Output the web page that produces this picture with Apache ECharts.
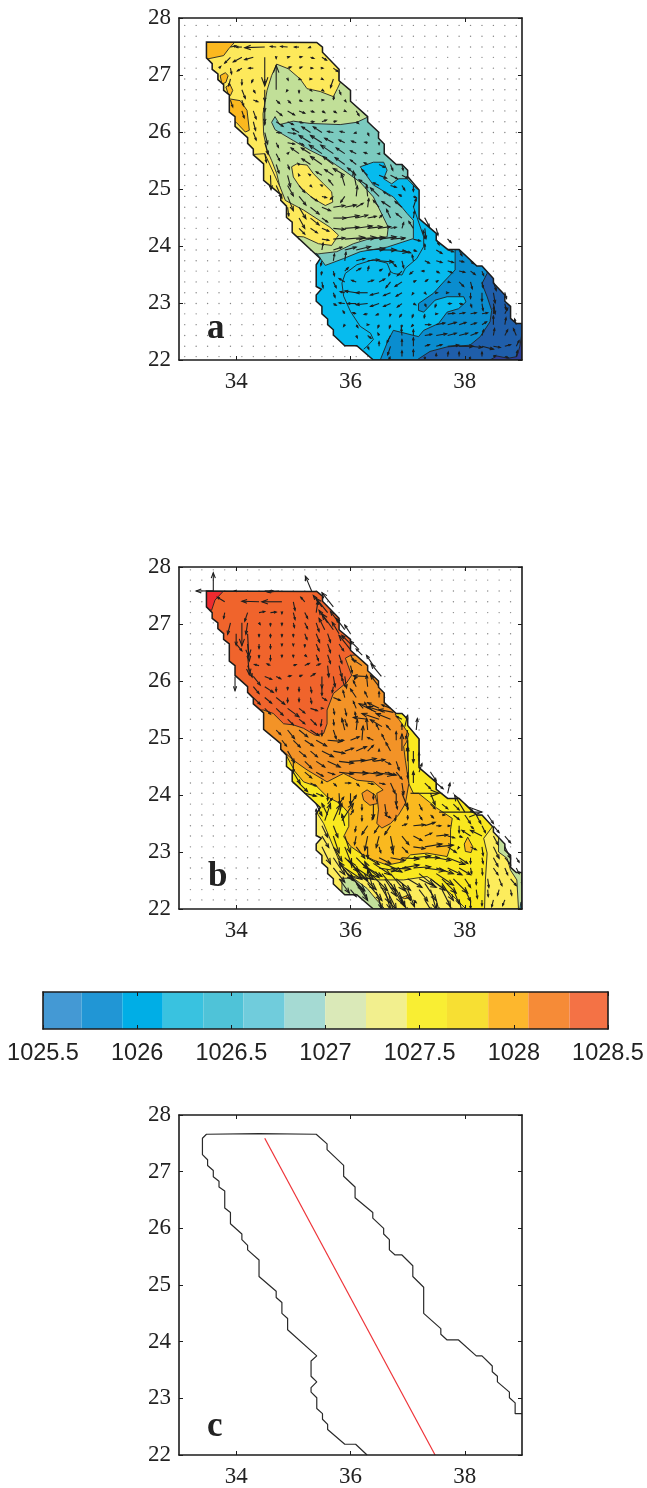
<!DOCTYPE html>
<html>

<head>
	<meta charset="UTF-8">
	<title></title>
	<script src="https://cdn.jsdelivr.net/npm/echarts@6/dist/echarts.min.js" type="text/javascript" charset="utf-8"></script>
	<style type="text/css">
		* {
			margin: 0;
			padding: 0;
		}

		html, body {
			background: #fff;
		}

		#app {
			width: 647px;
			height: 1488px;
		}
	</style>
</head>

<body>
	<div id="app"></div>
	<script type="text/javascript">
		var lonTicks = [34, 36, 38];
		var latTicks = [22, 23, 24, 25, 26, 27, 28];
		var barTicks = [1025.5, 1026, 1026.5, 1027, 1027.5, 1028, 1028.5];
		var barEdges = [1025.5, 1025.704, 1025.921, 1026.136, 1026.351, 1026.564, 1026.783, 1026.998, 1027.215, 1027.43, 1027.645, 1027.864, 1028.077, 1028.296, 1028.5];
		var barColors = ['#4499d4', '#2196d5', '#00aee6', '#39c2e0', '#4fc3d8', '#70ccdc', '#a5dad3', '#dae9b8', '#f2ef8e', '#f9ee33', '#f7df33', '#fdb72d', '#f68b37', '#f47245'];

		// velocity grid, panels a and b sit half a cell apart
		var dotLonsA = [33.1, 33.3, 33.5, 33.7, 33.9, 34.1, 34.3, 34.5, 34.7, 34.9, 35.1, 35.3, 35.5, 35.7, 35.9, 36.1, 36.3, 36.5, 36.7, 36.9, 37.1, 37.3, 37.5, 37.7, 37.9, 38.1, 38.3, 38.5, 38.7, 38.9];
		var dotLatsA = [27.87, 27.68, 27.49, 27.31, 27.12, 26.93, 26.74, 26.56, 26.37, 26.18, 25.99, 25.81, 25.62, 25.43, 25.24, 25.06, 24.87, 24.68, 24.49, 24.31, 24.12, 23.93, 23.74, 23.56, 23.37, 23.18, 22.99, 22.81, 22.62, 22.43, 22.24, 22.06];
		var dotLonsB = [33.2, 33.4, 33.6, 33.8, 34, 34.2, 34.4, 34.6, 34.8, 35, 35.2, 35.4, 35.6, 35.8, 36, 36.2, 36.4, 36.6, 36.8, 37, 37.2, 37.4, 37.6, 37.8, 38, 38.2, 38.4, 38.6, 38.8];
		var dotLatsB = [27.95, 27.77, 27.58, 27.39, 27.2, 27.02, 26.83, 26.65, 26.46, 26.27, 26.08, 25.9, 25.71, 25.52, 25.33, 25.14, 24.96, 24.77, 24.59, 24.4, 24.21, 24.03, 23.84, 23.65, 23.46, 23.28, 23.09, 22.9, 22.72, 22.53, 22.34, 22.16];

		// model domain used in a and b
		var basin = [[33.48, 27.58], [33.48, 27.3], [33.58, 27.2], [33.58, 27.1], [33.68, 27.02], [33.68, 26.92], [33.78, 26.83], [33.78, 26.73], [33.88, 26.65], [33.88, 26.35], [33.98, 26.27], [33.98, 26.1], [34.2, 25.9], [34.2, 25.8], [34.3, 25.7], [34.3, 25.6], [34.48, 25.44], [34.48, 25.15], [34.78, 24.9], [34.78, 24.8], [34.88, 24.7], [34.88, 24.5], [34.98, 24.42], [34.98, 24.24], [35.47, 23.78], [35.4, 23.67], [35.4, 23.29], [35.49, 23.24], [35.4, 23.14], [35.4, 23.03], [35.5, 22.94], [35.5, 22.81], [35.6, 22.72], [35.6, 22.62], [35.7, 22.53], [35.7, 22.44], [35.9, 22.25], [36.11, 22.25], [36.4, 22], [39, 22], [39, 22.64], [38.9, 22.64], [38.8, 22.73], [38.8, 22.94], [38.7, 23.03], [38.7, 23.14], [38.5, 23.35], [38.5, 23.43], [38.3, 23.65], [38.21, 23.65], [37.9, 23.94], [37.7, 23.94], [37.5, 24.1], [37.5, 24.22], [37.2, 24.48], [37.2, 24.98], [37, 25.22], [37, 25.33], [36.9, 25.43], [36.8, 25.43], [36.59, 25.62], [36.59, 25.79], [36.49, 25.89], [36.49, 26], [36.3, 26.18], [36.3, 26.27], [36, 26.54], [36, 26.73], [35.8, 26.9], [35.8, 27.1], [35.51, 27.4], [35.51, 27.49], [35.41, 27.57]];

		// coast and section in c
		var coastC = [[36.29, 22], [36.09, 22.19], [35.9, 22.19], [35.6, 22.45], [35.6, 22.54], [35.51, 22.63], [35.51, 22.73], [35.41, 22.82], [35.41, 23.01], [35.31, 23.11], [35.31, 23.19], [35.41, 23.29], [35.31, 23.39], [35.31, 23.66], [35.41, 23.75], [34.9, 24.21], [34.9, 24.41], [34.8, 24.5], [34.8, 24.69], [34.7, 24.78], [34.7, 24.89], [34.4, 25.15], [34.4, 25.44], [34.2, 25.62], [34.2, 25.7], [34.1, 25.8], [34.1, 25.9], [33.9, 26.08], [33.9, 26.28], [33.8, 26.36], [33.8, 26.66], [33.7, 26.73], [33.7, 26.83], [33.6, 26.91], [33.6, 27.02], [33.5, 27.11], [33.5, 27.21], [33.41, 27.3], [33.41, 27.59], [33.48, 27.66], [34.4, 27.67], [35.4, 27.66], [35.59, 27.49], [35.59, 27.39], [35.88, 27.11], [35.88, 26.92], [36.08, 26.73], [36.08, 26.54], [36.39, 26.28], [36.39, 26.18], [36.58, 26], [36.58, 25.9], [36.68, 25.8], [36.68, 25.62], [36.78, 25.53], [36.9, 25.53], [37.09, 25.34], [37.09, 25.15], [37.28, 24.96], [37.28, 24.5], [37.58, 24.23], [37.58, 24.13], [37.69, 24.03], [37.89, 24.03], [38.2, 23.75], [38.3, 23.75], [38.48, 23.57], [38.48, 23.47], [38.57, 23.39], [38.57, 23.29], [38.78, 23.11], [38.78, 23.01], [38.88, 22.92], [38.88, 22.73], [39, 22.73]];
		var sectionC = [[34.5, 27.59], [37.48, 22]];

		// density regions of a, painted in this order and cut to the basin
		var regionsA = [
			{ color: '#fde95b', points: basin },
			{ color: '#c1df98', points: [[34.71, 27.19], [34.91, 27.11], [35.12, 26.93], [35.24, 26.76], [35.47, 26.71], [35.7, 26.62], [35.77, 26.76], [35.85, 26.93], [39.5, 26.93], [39.5, 21.5], [34.42, 21.5], [34.42, 24.4], [34.78, 24.97], [34.71, 25.27], [34.62, 25.5], [34.54, 25.68], [34.48, 25.97], [34.47, 26.32], [34.54, 26.73], [34.62, 26.99]] },
			{ color: '#7bcabf', points: [[34.62, 26.17], [34.68, 26.27], [34.76, 26.13], [35, 26.19], [35.29, 26.15], [35.82, 26.13], [36.11, 26.17], [36.3, 26.26], [39.5, 26.26], [39.5, 21.5], [35, 21.5], [35, 23.8], [35.5, 23.87], [35.76, 23.9], [36.05, 24.04], [36.34, 24.13], [36.64, 24.16], [36.66, 24.33], [36.4, 24.86], [36.17, 25.12], [35.88, 25.33], [35.59, 25.53], [35.29, 25.68], [35, 25.85], [34.68, 26.04]] },
			{ color: '#06bbee', points: [[36.17, 25.39], [36.4, 25.47], [36.58, 25.47], [36.64, 25.33], [36.58, 25.18], [36.72, 25.09], [36.84, 25.18], [36.99, 25.18], [37.16, 25], [39.5, 25], [39.5, 21.5], [35, 21.5], [35, 23.87], [35.41, 23.87], [35.56, 23.66], [35.88, 23.78], [36.17, 23.9], [36.64, 23.98], [37.1, 24.13], [37.1, 24.45], [36.99, 24.57], [36.75, 24.86], [36.4, 25.07]] },
			{ color: '#0a8dcf', points: [[37.83, 23.94], [37.83, 23.75], [37.83, 23.58], [37.63, 23.37], [37.45, 23.17], [37.19, 22.99], [37.19, 22.87], [37.28, 22.84], [37.48, 23.05], [37.69, 23.11], [37.98, 23.11], [38.02, 23.02], [37.89, 22.9], [37.69, 22.84], [37.54, 22.64], [37.28, 22.52], [37.19, 22.41], [36.99, 22.46], [36.75, 22.52], [36.66, 22.35], [36.52, 22], [36.52, 21.5], [39.5, 21.5], [39.5, 23.94]] },
			{ color: '#1f5eaa', points: [[38.39, 23.7], [38.39, 23.52], [38.3, 23.34], [38.39, 23.11], [38.47, 22.87], [38.44, 22.67], [38.27, 22.41], [38.09, 22.26], [37.69, 22.23], [37.39, 22.15], [37.16, 22], [37.16, 21.5], [39.5, 21.5], [39.5, 23.7]] },
			{ color: '#2c3e98', points: [[38.44, 22], [38.56, 22.07], [38.76, 22.03], [38.91, 22.06], [38.96, 22.23], [39, 22.47], [39.5, 22.47], [39.5, 21.5], [38.44, 21.5]] },
			{ color: '#fde95b', points: [[34.97, 25.39], [35.06, 25.44], [35.24, 25.42], [35.35, 25.27], [35.53, 25.09], [35.67, 24.95], [35.69, 24.77], [35.56, 24.71], [35.35, 24.83], [35.12, 25.03], [35, 25.21]] },
			{ color: '#fde95b', points: [[34.5, 25.62], [34.77, 25.03], [34.86, 24.8], [35.18, 24.63], [35.64, 24.33], [35.79, 24.19], [35.67, 24.01], [35.44, 24.04], [35.18, 24.16], [34.6, 24.2], [34, 25], [34.2, 25.6]] },
			{ color: '#fbb81f', points: [[33.3, 27.7], [34.1, 27.7], [33.97, 27.57], [33.87, 27.46], [33.78, 27.34], [33.3, 27.24]] },
			{ color: '#fbb81f', points: [[33.72, 26.99], [33.81, 27.04], [33.86, 26.99], [33.82, 26.87], [33.75, 26.84]] },
			{ color: '#fbb81f', points: [[33.82, 26.79], [33.89, 26.84], [33.94, 26.73], [33.9, 26.64], [33.86, 26.67]] },
			{ color: '#fbb81f', points: [[33.89, 26.58], [34.07, 26.55], [34.19, 26.38], [34.23, 26.03], [34.16, 26], [34, 26.17], [33.7, 26.35], [33.7, 26.58]] }
		];

		// contours inside one colour band of a
		var contoursA = [
			[[36.23, 22.19], [36.29, 22.24], [36.4, 22.36], [36.35, 22.47], [36.17, 22.59], [36, 22.85], [35.88, 23.12], [35.85, 23.35], [35.91, 23.52], [36.11, 23.67], [36.4, 23.76], [36.64, 23.7], [36.7, 23.55], [36.75, 23.52], [36.9, 23.49], [36.96, 23.61], [37.16, 23.78], [37.28, 23.99], [37.28, 24.16], [37.1, 24.69]]
		];

		var regionsB = [
			{ color: '#f9e81f', points: basin },
			{ color: '#fcec5c', points: [[35.38, 23.74], [35.53, 23.5], [35.7, 23.09], [35.82, 22.8], [36.05, 22.57], [36.46, 22.51], [36.93, 22.51], [37.34, 22.57], [37.74, 22.28], [38.04, 21.98], [38.1, 21.5], [35, 21.5], [35, 23.74]] },
			{ color: '#fcec5c', points: [[38.33, 23.24], [38.39, 22.98], [38.36, 22.51], [38.33, 21.5], [39.5, 21.5], [39.5, 23.6], [38.6, 23.6]] },
			{ color: '#c2df9a', points: [[35.85, 22.54], [36.05, 22.54], [36.29, 22.36], [36.43, 22.19], [36.69, 21.9], [36.4, 21.7], [35.7, 21.9], [35.85, 22.3]] },
			{ color: '#c2df9a', points: [[38.59, 23.15], [38.59, 23], [38.74, 22.89], [38.8, 22.68], [38.91, 22.51], [38.94, 21.98], [39.5, 21.9], [39.5, 23.6], [38.59, 23.6]] },
			{ color: '#06bbee', points: [[38.98, 22.12], [39.1, 22.12], [39.1, 21.9], [38.95, 21.9]] },
			{ color: '#fab91f', points: [[34.65, 25.08], [34.89, 24.67], [35.03, 24.41], [35.18, 24.23], [35.41, 24.15], [35.59, 23.97], [35.82, 23.85], [35.97, 23.68], [35.97, 23.45], [35.88, 23.27], [36, 23.1], [36.17, 22.98], [36.4, 22.86], [36.64, 22.77], [36.93, 22.83], [37.05, 22.95], [37.34, 22.98], [37.69, 22.92], [37.75, 23.1], [37.75, 23.39], [37.78, 23.59], [37.51, 23.77], [37.19, 24.03], [37.1, 24.03], [37.02, 24.2], [37, 25], [35.5, 25.5]] },
			{ color: '#fab91f', points: [[37.99, 23.14], [38.05, 23.26], [38.14, 23.09], [38.11, 22.99], [38.01, 23.01]] },
			{ color: '#fab91f', points: [[36.9, 22.2], [37.02, 22.25], [37.07, 22.21], [36.95, 22.18]] },
			{ color: '#f39327', points: [[37.2, 25.6], [36.78, 25.42], [36.9, 25.25], [37.02, 25.07], [36.98, 24.93], [36.93, 24.85], [36.96, 24.61], [37.02, 24.2], [36.96, 23.85], [36.84, 23.65], [36.7, 23.5], [36.55, 23.42], [36.46, 23.5], [36.49, 23.74], [36.46, 24.03], [36.57, 24.09], [36.4, 24.23], [36.11, 24.26], [35.88, 24.38], [35.59, 24.23], [35.24, 24.44], [35, 24.61], [34.8, 24.79], [34, 25], [33, 28], [37.2, 28]] },
			{ color: '#f39327', points: [[36.2, 24.03], [36.29, 24.09], [36.43, 24], [36.47, 23.85], [36.34, 23.82], [36.23, 23.91]] },
			{ color: '#f0642c', points: [[36.02, 26.1], [35.94, 25.98], [35.7, 25.78], [35.59, 25.49], [35.59, 25.25], [35.53, 25.08], [35.38, 25.05], [35.18, 25.17], [35, 25.23], [34.83, 25.25], [34.65, 25.43], [34.48, 25.49], [34, 25.5], [33, 28], [37, 28], [37, 26.6], [36.14, 26.46], [36, 26.45], [35.91, 26.4]] },
			{ color: '#ee2a2f', points: [[33.3, 27.7], [33.85, 27.7], [33.78, 27.58], [33.63, 27.42], [33.57, 27.24], [33.3, 27.3]] }
		];

		// arrows of a by row: lat, then [lon, dlon, dlat]
		var rowsA = [
			[27.49, [33.9, .1, .02], [34.1, -.1, 0], [34.5, -.35, -.01], [34.7, -.1, .01], [34.9, -.12, .01], [35.1, -.08, 0], [35.3, -.03, -.01]],
			[27.31, [33.9, -.1, -.1], [34.1, -.15, -.08], [34.3, -.15, -.04], [34.5, 0, -.5], [34.7, 0, -.02], [34.9, .03, .01], [35.1, .05, .01], [35.3, .06, -.02], [35.5, .08, -.05]],
			[27.12, [33.7, .03, .03], [33.9, .02, -.1], [34.1, -.08, -.05], [34.3, -.08, 0], [34.9, .06, .02], [35.1, .05, .02], [35.3, .04, 0], [35.5, .02, 0], [35.7, .08, -.06]],
			[26.93, [33.9, -.03, -.12], [34.1, 0, -.1], [34.3, -.03, -.06], [34.5, 0, -.08], [34.9, .01, -.02], [35.1, .03, -.01], [35.3, .02, 0], [35.5, .02, -.01], [35.7, -.05, -.15]],
			[26.74, [34.1, .06, -.15], [34.3, .03, -.05], [34.5, 0, -.2], [34.7, 0, .43], [34.9, -.02, -.03], [35.1, 0, -.05], [35.3, .02, -.02], [35.5, .03, -.02], [35.8, .03, -.08]],
			[26.56, [33.9, .04, -.12], [34.1, .03, -.1], [34.3, .08, -.03], [34.5, 0, -.2], [34.7, .06, -.06], [34.9, .05, -.05], [35.1, .05, -.02], [35.3, .03, -.01], [35.5, .03, 0], [35.7, .01, .06], [35.9, .02, -.03]],
			[26.37, [34.1, .04, -.12], [34.3, .05, -.14], [34.5, 0, -.2], [34.7, .1, -.08], [34.9, .12, -.07], [35.1, .1, -.04], [35.3, .06, -.02], [35.5, .05, -.03], [35.7, .05, -.03], [35.9, .02, -.01], [36.1, .05, -.08]],
			[26.18, [34.3, .04, -.15], [34.5, 0, -.05], [34.7, .12, -.08], [34.9, .1, -.05], [35.1, .06, -.02], [35.3, .06, 0], [35.5, .08, .03], [35.7, .05, .01], [36.1, .04, -.03]],
			[25.99, [34.3, .05, -.13], [34.5, .05, -.2], [34.7, .08, 0], [34.9, .14, -.02], [35.1, -.12, .07], [35.3, -.15, .1], [35.5, -.15, .1], [35.7, -.1, .02], [35.9, -.08, .02], [36.1, -.03, -.01], [36.3, .02, -.05]],
			[25.81, [34.5, .06, -.2], [34.7, .04, -.08], [34.9, .12, -.02], [35.1, .08, -.04], [35.3, -.2, .13], [35.5, -.2, .13], [35.7, -.15, .08], [35.9, -.1, .05], [36.1, -.08, .03], [36.3, -.05, .01], [36.5, 0, -.03]],
			[25.62, [34.5, .03, -.15], [34.7, .06, -.12], [34.9, .02, .02], [35.1, -.14, .1], [35.3, -.16, .1], [35.5, -.22, .15], [35.7, -.22, .15], [35.9, -.15, .1], [36.1, -.1, .05], [36.3, -.06, .02], [36.5, -.02, 0]],
			[25.43, [34.7, .05, -.15], [34.9, .03, -.08], [35.1, -.02, .02], [35.3, -.15, .1], [35.5, -.2, .14], [35.7, -.18, .14], [35.9, -.17, .12], [36.1, -.1, .08], [36.3, -.06, .03], [36.5, .1, -.05], [36.7, .04, -.1], [36.9, .02, -.1]],
			[25.24, [34.6, .01, -.25], [34.9, .05, -.2], [35.1, -.01, .02], [35.3, -.03, .02], [35.5, -.1, .06], [35.7, -.15, .1], [35.9, -.2, .12], [36.1, -.15, .13], [36.3, -.1, .1], [36.5, .13, -.05], [36.7, .12, -.06], [36.9, .1, -.05]],
			[25.06, [34.7, .1, -.22], [34.9, .1, -.18], [35.1, .1, -.12], [35.3, .02, -.02], [35.5, -.02, .01], [35.7, -.08, .1], [35.9, -.06, .2], [36.1, -.05, .25], [36.3, -.15, .1], [36.5, -.1, .05], [36.7, .1, -.03], [36.9, .05, -.08], [37.1, 0, -.1]],
			[24.87, [34.9, .1, -.25], [35.1, .12, -.15], [35.3, .12, -.08], [35.5, .08, -.02], [35.7, -.05, -.05], [35.9, -.07, -.1], [36.1, .02, .18], [36.3, -.02, .2], [36.5, -.15, .15], [36.7, -.12, .08], [36.9, -.05, .03], [37.1, .05, -.02]],
			[24.68, [34.9, .02, -.15], [35.1, .12, -.2], [35.3, .15, -.12], [35.5, .15, -.06], [35.7, .2, .03], [35.9, .2, .04], [36.1, .12, .07], [36.3, .02, .15], [36.5, -.1, .12], [36.7, -.15, .1], [36.9, -.12, .1], [37.1, .05, .15]],
			[24.49, [35.1, .1, -.18], [35.3, .15, -.12], [35.5, .1, -.07], [35.7, .22, 0], [35.9, .25, .04], [36.1, .2, .05], [36.3, .15, .03], [36.5, .05, .05], [36.7, -.07, .15], [36.9, -.1, .08], [37.1, .02, .12], [37.3, .08, -.15]],
			[24.31, [35.1, .1, -.1], [35.3, .12, -.08], [35.5, .12, -.05], [35.7, .2, -.02], [35.9, .25, .02], [36.1, .28, .04], [36.3, .25, .03], [36.5, .2, .03], [36.7, .1, .02], [36.9, .03, .1], [37.1, -.08, .12], [37.3, .02, -.18], [37.5, .03, -.12]],
			[24.12, [35.5, .12, -.02], [35.7, .2, .02], [35.9, .35, .03], [36.1, .35, .03], [36.3, .3, .03], [36.5, .3, .04], [36.7, .25, .02], [36.9, .05, .02], [37.1, .12, -.03], [37.3, -.03, .15], [37.5, .05, -.1], [37.7, .06, -.06]],
			[23.93, [35.5, .02, .12], [35.7, .15, .05], [35.9, .2, .05], [36.1, .25, .06], [36.3, .3, .02], [36.5, .3, 0], [36.7, .3, -.04], [36.9, .15, -.05], [37.1, .05, -.02], [37.3, 0, .1], [37.5, .1, -.06], [37.7, .1, -.03], [37.9, .05, -.1]],
			[23.74, [35.5, -.02, -.08], [35.7, .02, .12], [35.9, .02, .15], [36.1, .15, .04], [36.3, .2, .02], [36.5, .25, -.02], [36.7, .1, -.1], [36.9, .03, -.12], [37.1, -.02, .1], [37.3, .08, -.04], [37.5, .1, -.03], [37.7, .1, -.03], [37.9, .08, -.02], [38.1, .05, -.05]],
			[23.56, [35.5, -.01, -.06], [35.7, .02, -.08], [35.9, .06, .06], [36.1, .08, .05], [36.3, .02, .08], [36.5, .05, .03], [36.7, -.03, -.08], [36.9, -.08, -.08], [37.1, -.06, -.05], [37.3, -.05, 0], [37.5, .05, -.03], [37.7, .08, -.03], [37.9, .1, -.02], [38.1, .08, -.06], [38.3, .03, -.08]],
			[23.37, [35.5, .02, -.1], [35.7, .05, -.1], [35.9, -.1, .06], [36.1, -.08, .03], [36.3, .1, .03], [36.5, .1, .05], [36.7, -.08, -.1], [36.9, -.12, -.08], [37.1, .04, .02], [37.3, .05, .04], [37.5, .03, .02], [37.7, .04, -.01], [37.9, .08, -.08], [38.1, .03, -.12], [38.3, .02, -.1], [38.5, .05, -.15]],
			[23.18, [35.7, .03, -.08], [35.9, -.08, .02], [36.1, -.2, .03], [36.3, -.2, 0], [36.5, -.15, -.04], [36.7, -.12, -.05], [36.9, -.1, -.06], [37.1, -.02, -.03], [37.3, .02, -.02], [37.5, .02, 0], [37.7, .01, 0], [37.9, .01, -.05], [38.1, 0, -.1], [38.3, 0, -.15], [38.5, .03, -.18], [38.7, .03, -.1]],
			[22.99, [35.7, .05, -.03], [35.9, -.1, .01], [36.1, -.15, 0], [36.3, -.2, -.02], [36.5, -.15, -.05], [36.7, -.12, -.05], [36.9, -.08, -.06], [37.1, .04, -.02], [37.3, .02, -.05], [37.5, -.02, -.06], [37.7, .06, 0], [37.9, .06, -.01], [38.1, .02, -.06], [38.3, .02, -.12], [38.5, .03, -.18], [38.7, .02, -.1]],
			[22.81, [35.9, -.03, .05], [36.1, -.06, .02], [36.3, -.06, -.01], [36.5, -.05, -.02], [36.7, -.01, -.04], [36.9, -.04, -.05], [37.1, -.02, -.06], [37.3, -.01, -.07], [37.5, .02, 0], [37.7, .12, .01], [37.9, .1, .02], [38.1, .1, .02], [38.3, .1, .02], [38.5, .01, .12], [38.7, .05, .1]],
			[22.62, [35.9, -.02, -.03], [36.1, .03, -.05], [36.3, .02, 0], [36.5, -.02, -.05], [36.7, -.02, -.06], [36.9, -.01, -.05], [37.1, -.03, -.03], [37.3, .1, 0], [37.5, .15, .03], [37.7, .15, .04], [37.9, .12, .04], [38.1, .1, .03], [38.3, .08, .05], [38.5, 0, .15], [38.7, .02, .12], [38.9, -.03, .1]],
			[22.43, [36.1, .02, -.04], [36.3, .06, -.05], [36.5, -.02, .04], [36.7, -.06, -.12], [36.9, -.01, .12], [37.1, 0, .1], [37.3, .12, .02], [37.5, .18, .03], [37.7, .15, .04], [37.9, .15, .04], [38.1, .12, .05], [38.3, .03, .1], [38.5, .02, .12], [38.7, .05, .1], [38.9, -.05, .12]],
			[22.24, [36.3, .02, -.05], [36.5, 0, .08], [36.7, -.05, -.15], [36.9, 0, .12], [37.1, 0, .15], [37.3, .08, .03], [37.5, .1, .03], [37.7, .2, .02], [37.9, .25, 0], [38.1, .2, -.02], [38.3, .2, -.05], [38.5, .12, -.02], [38.7, .1, .03], [38.9, .05, .1]],
			[22.06, [36.7, -.03, -.05], [36.9, 0, .1], [37.1, 0, .12], [37.3, 0, -.05], [37.5, 0, .05], [37.7, .01, .08], [37.9, 0, .08], [38.1, -.02, -.05], [38.3, 0, .08], [38.5, .04, .02], [38.7, .06, -.02], [38.9, .02, .1]]
		];

		var rowsB = [
			[27.58, [33.6, -.3, 0], [33.6, 0, .32], [34, -.03, 0], [34.5, .15, 0], [34.75, -.2, -.02], [35.32, -.11, .26]],
			[27.39, [33.8, -.13, .08], [34.4, -.3, .01], [34.8, -.35, 0], [35, .03, -.15], [35.2, -.07, .08]],
			[27.3, [35.5, -.15, .2], [35.7, -.2, .25]],
			[27.2, [33.8, -.02, -.1], [34.2, -.05, -.15], [34.4, .1, .02], [34.6, .1, .01], [34.8, 0, -.02], [35, .03, -.12], [35.2, .05, -.1], [35.4, .03, .2], [35.6, -.2, .25]],
			[27.02, [33.9, -.05, -.2], [34.1, 0, -.4], [34.2, -.03, -.2], [34.4, .02, -.03], [34.6, 0, -.05], [34.8, 0, -.04], [35, .02, -.08], [35.2, .05, -.1], [35.4, .05, -.15], [35.6, -.15, .22], [35.8, -.15, .2]],
			[26.9, [35.55, -.1, .2], [35.7, -.2, .28], [35.9, -.15, .2]],
			[26.83, [34, 0, -.2], [34.2, .02, -.4], [34.4, 0, -.05], [34.6, 0, -.06], [34.8, 0, -.05], [35, 0, -.05], [35.2, .04, -.1], [35.4, .06, -.15], [35.6, .05, -.15], [35.8, -.12, .2], [36, -.1, .15]],
			[26.65, [34, .1, -.12], [34.2, .03, -.3], [34.4, 0, -.08], [34.6, 0, -.08], [34.8, 0, -.03], [35, 0, -.03], [35.2, 0, -.05], [35.4, .05, -.12], [35.6, .05, -.15], [35.8, .08, -.12], [36, -.15, .15]],
			[26.55, [36, -.2, .25], [36.15, -.15, .15]],
			[26.46, [34.2, .03, -.35], [34.4, 0, -.05], [34.6, 0, -.1], [34.8, 0, -.04], [35, 0, -.04], [35.2, .03, -.03], [35.4, .04, -.1], [35.6, .05, -.15], [35.8, .05, -.15], [36, .05, -.1], [36.2, -.1, .1]],
			[26.27, [34.2, .08, -.2], [34.4, -.08, .02], [34.6, -.06, .03], [35, .05, .02], [35.2, .08, .04], [35.4, .07, .03], [35.6, .02, -.2], [35.8, .05, -.2], [36, .03, -.12], [36.2, -.15, .1], [36.4, -.12, .18]],
			[26.08, [33.98, 0, -.25], [34.3, .12, -.15], [34.5, .12, -.05], [34.7, .08, -.04], [34.9, .06, .01], [35.1, .05, .02], [35.3, .08, .05], [35.5, 0, -.2], [35.7, .03, -.18], [35.9, .03, -.2], [36.1, -.03, -.05], [36.3, -.25, .01], [36.54, -.18, .22]],
			[25.9, [34.3, .1, -.12], [34.5, .15, -.1], [34.7, 0, -.08], [34.9, 0, -.05], [35.1, 0, -.08], [35.3, .02, -.1], [35.5, 0, -.15], [35.7, -.02, -.1], [35.9, -.05, .15], [36.1, -.05, .1], [36.3, -.02, .2], [36.5, -.15, .2]],
			[25.71, [34.3, .12, -.12], [34.5, .12, -.1], [34.7, .15, -.12], [34.9, 0, -.08], [35.1, 0, -.07], [35.3, .02, -.1], [35.5, .08, -.05], [35.7, .12, -.05], [35.9, -.03, .12], [36.1, -.1, .15], [36.3, -.05, .1], [36.5, 0, .1]],
			[25.52, [34.5, .1, -.1], [34.7, .12, -.12], [34.9, .2, -.15], [35.1, .1, -.08], [35.3, .12, -.04], [35.5, .02, 0], [35.7, .02, -.1], [35.9, .03, -.12], [36.1, -.05, .12], [36.3, -.05, .1], [36.5, -.2, .1], [36.7, -.15, .06]],
			[25.45, [36.45, -.3, .15], [36.6, -.3, .1], [36.75, -.25, .05]],
			[25.33, [34.9, .1, -.1], [35.1, .1, -.08], [35.3, .1, -.1], [35.5, -.02, -.12], [35.7, .01, -.1], [35.9, .04, -.12], [36.1, -.02, .12], [36.3, -.25, .03], [36.5, -.3, .1], [36.7, -.25, .1], [36.9, -.1, .05]],
			[25.2, [36.55, -.2, .12], [36.95, .05, .2]],
			[25.14, [34.7, .08, -.08], [34.9, .12, -.15], [35.1, .15, -.12], [35.3, .15, -.1], [35.5, 0, -.1], [35.7, .05, -.15], [35.9, -.05, .2], [36.1, .02, .18], [36.3, -.02, .2], [36.5, -.05, .1], [36.7, -.07, .08], [36.9, 0, .1], [37, -.03, -.15], [37.15, .02, .2]],
			[24.96, [34.8, .08, -.1], [35, .12, -.12], [35.2, .15, -.1], [35.4, .18, -.1], [35.6, .25, -.02], [35.8, .08, 0], [36, .15, .06], [36.2, .02, .25], [36.4, -.1, .05], [36.6, -.05, .1], [36.8, 0, .15], [37, 0, -.2]],
			[24.77, [34.9, .12, -.2], [35.1, .12, -.1], [35.3, .12, -.1], [35.5, .2, -.1], [35.7, .2, -.04], [35.9, .15, .05], [36.1, .18, .08], [36.3, .1, .1], [36.5, 0, .03], [36.7, -.08, .15], [36.9, 0, .3], [37.1, 0, -.2]],
			[24.59, [35, 0, -.2], [35.2, .12, -.12], [35.4, .15, -.1], [35.6, .22, -.1], [35.8, .25, -.03], [36, .25, .02], [36.2, .25, .05], [36.4, .2, .03], [36.6, .1, -.05], [36.8, .05, -.15], [37, 0, .25], [37.2, 0, .15]],
			[24.4, [35, .12, -.2], [35.2, .12, -.1], [35.4, .12, -.07], [35.6, .12, -.04], [35.8, .25, -.03], [36, .3, -.02], [36.2, .35, -.04], [36.4, .35, -.05], [36.6, .2, -.05], [36.8, .1, -.12], [37, 0, -.1], [37.2, .05, .15], [37.4, .1, -.15]],
			[24.21, [35.1, .15, -.15], [35.3, .1, -.05], [35.5, 0, .03], [35.7, .05, -.05], [35.9, .1, 0], [36.1, .05, -.05], [36.3, .1, -.02], [36.5, .1, -.02], [36.7, .08, -.18], [36.9, .03, -.2], [37.1, 0, .2], [37.3, .1, -.1], [37.5, .12, -.1]],
			[24.03, [35.2, .2, -.05], [35.4, .12, -.05], [35.6, 0, -.12], [35.8, .01, -.2], [36, 0, -.2], [36.4, 0, -.1], [36.8, 0, -.2], [36.9, .1, -.25], [37.05, .5, 0], [37.4, .08, -.2], [37.7, .04, .18]],
			[23.84, [35.4, .1, -.2], [35.6, .08, .1], [35.8, .08, .12], [36, .1, .15], [36.2, 0, -.1], [36.4, 0, -.25], [36.6, .03, -.2], [36.8, .02, -.08], [37, 0, -.1], [37.2, .05, -.1], [37.4, .08, -.08], [37.6, .1, -.08], [37.8, .1, -.1], [38, .15, -.15]],
			[23.7, [37.55, .75, 0], [38, -.18, .3]],
			[23.65, [35.4, 0, .1], [35.6, -.1, .2], [35.8, .05, .2], [36, .05, .08], [36.2, 0, -.1], [36.4, -.02, -.08], [36.6, .1, -.05], [36.8, -.02, -.1], [37, 0, -.07], [37.2, .05, -.08], [37.4, .05, -.05], [37.6, .05, 0], [37.8, .1, -.08], [38, .1, -.15], [38.2, .08, -.15], [38.4, .1, -.15]],
			[23.55, [35.55, .1, .3], [35.7, .12, .28], [35.85, .2, .3]],
			[23.46, [35.5, .1, -.2], [35.7, .08, -.2], [35.9, -.05, .2], [36.1, -.02, -.1], [36.3, -.1, -.15], [36.5, -.08, -.12], [36.7, -.1, -.15], [36.9, .08, .03], [37.1, .2, .02], [37.3, .18, .06], [37.5, .08, 0], [37.7, .04, 0], [37.9, 0, -.12], [38.1, .05, -.05], [38.3, .06, -.12], [38.5, .1, -.12]],
			[23.28, [35.5, .12, -.2], [35.7, .1, -.3], [35.9, .1, -.3], [36.1, -.03, -.15], [36.3, -.05, -.25], [36.5, -.05, -.2], [36.7, .05, -.25], [36.9, .12, -.15], [37.1, .15, -.08], [37.3, .12, .05], [37.5, .2, .02], [37.7, .12, -.03], [37.9, .05, -.02], [38.1, -.15, .1], [38.3, -.2, .1], [38.5, .08, -.15], [38.7, .1, -.12]],
			[23.09, [35.5, .15, -.3], [35.7, .15, -.25], [35.9, .12, -.3], [36.1, .15, -.2], [36.3, 0, -.2], [36.5, .03, -.1], [36.7, .05, -.12], [36.9, .1, -.1], [37.1, .2, -.03], [37.3, .3, .05], [37.5, .3, .03], [37.7, .15, -.1], [37.9, -.02, -.03], [38.1, .1, -.05], [38.3, .02, -.15], [38.5, .1, -.2], [38.7, .1, -.2]],
			[22.9, [35.7, .2, -.3], [35.9, .25, -.25], [36.1, .2, -.2], [36.3, .2, -.12], [36.5, .2, -.1], [36.7, .25, -.05], [36.9, .3, -.02], [37.1, .3, .03], [37.3, .25, 0], [37.5, .25, -.05], [37.7, .3, -.12], [37.9, .15, -.1], [38.1, 0, -.1], [38.3, .02, -.1], [38.5, .08, -.15], [38.7, .1, -.12], [38.9, .05, -.08]],
			[22.8, [35.8, .25, -.3], [36, .3, -.3], [36.2, .3, -.25], [36.4, .3, -.2], [36.6, .3, -.15]],
			[22.72, [35.7, .2, -.25], [35.9, .3, -.2], [36.1, .3, -.2], [36.3, .25, -.15], [36.5, .3, -.05], [36.7, .35, -.02], [36.9, .3, .05], [37.1, .3, .02], [37.3, .35, -.05], [37.5, .3, -.1], [37.7, .25, -.12], [37.9, .2, -.12], [38.1, .02, -.1], [38.3, .01, -.12], [38.5, .08, -.12], [38.7, .05, -.12], [38.9, .05, -.1]],
			[22.62, [35.95, .3, -.3], [36.15, .3, -.28], [36.35, .3, -.3], [36.55, .25, -.3], [36.7, .25, -.3], [37.2, .25, -.2], [37.5, .3, -.2]],
			[22.53, [35.8, .18, -.25], [36, -.2, .3], [36.2, -.2, .3], [36.4, -.15, .3], [36.6, .2, -.3], [36.8, .25, -.2], [37, .25, -.15], [37.2, .3, -.15], [37.4, .25, -.2], [37.6, .25, -.25], [37.8, .25, -.25], [38, .1, -.15], [38.2, 0, -.1], [38.4, .02, -.15], [38.6, .05, -.12], [38.8, .1, -.12], [39, 0, -.1]],
			[22.45, [36.1, .2, -.3], [36.3, .25, -.3], [36.5, .2, -.35], [36.7, .2, -.35], [36.9, .15, -.3], [37.3, .2, -.3], [37.6, .2, -.3]],
			[22.34, [36, .1, -.12], [36.2, -.2, .25], [36.4, -.1, .35], [36.6, .1, -.35], [36.8, .15, -.3], [37, .12, -.3], [37.2, .15, -.2], [37.4, .1, -.35], [37.6, .15, -.3], [37.8, .1, -.25], [38, .1, -.2], [38.2, .02, -.15], [38.4, .01, -.12], [38.6, -.03, -.1], [38.8, .02, -.1]],
			[22.3, [36.45, .1, -.3], [36.65, .15, -.3], [36.85, .1, -.25]],
			[22.16, [36.3, -.1, .2], [36.5, .05, -.2], [36.7, .05, -.2], [36.9, .1, -.2], [37.1, .05, -.05], [37.3, .12, -.2], [37.5, .05, -.2], [37.7, .07, -.2], [37.9, .05, -.2], [38.1, 0, -.15], [38.3, 0, -.1], [38.5, -.03, -.12], [38.7, -.04, -.1]]
		];

		function inBasin(lon, lat) {
			var inside = false;
			for(var i = 0, j = basin.length - 1; i < basin.length; j = i++) {
				var a = basin[i], b = basin[j];
				if((a[1] > lat) != (b[1] > lat) && lon < (b[0] - a[0]) * (lat - a[1]) / (b[1] - a[1]) + a[0]) {
					inside = !inside;
				}
			}
			return inside;
		}

		function landDots(lons, lats) {
			var out = [];
			lats.forEach(function(lat) {
				lons.forEach(function(lon) {
					if(!inBasin(lon, lat)) out.push([lon, lat]);
				});
			});
			return out;
		}

		function flatRows(rows) {
			var out = [];
			rows.forEach(function(row) {
				for(var i = 1; i < row.length; i++) {
					out.push([row[i][0], row[0], row[i][1], row[i][2]]);
				}
			});
			return out;
		}

		var boxColor = '#1c1c1c';
		var serif = '"Liberation Serif"';

		function axisPair(kind, gridIndex, min, max, ticks, labelOpt) {
			var base = {
				type: 'value', gridIndex: gridIndex, min: min, max: max, scale: true, z: 10,
				splitLine: { show: false },
				axisLine: { show: true, onZero: false, lineStyle: { color: boxColor, width: 1.6 } },
				axisTick: { show: true, inside: true, length: 4, customValues: ticks, lineStyle: { color: boxColor, width: 1 } }
			};
			var first = Object.assign({}, base, {
				position: kind == 'x' ? 'bottom' : 'left',
				axisLabel: labelOpt
			});
			var second = Object.assign({}, base, {
				position: kind == 'x' ? 'top' : 'right',
				axisLabel: { show: false }
			});
			return [first, second];
		}

		var xAxes = [], yAxes = [], grids = [], series = [];

		function panelLabels(size, margin) {
			return {
				show: true, customValues: null, fontFamily: serif, fontSize: size, color: '#222', margin: margin,
				formatter: function(v) { return String(v); }
			};
		}

		function addPanel(top) {
			var g = grids.length;
			grids.push({ left: 179, top: top, width: 343, height: 342 });
			var xl = panelLabels(23, 10), yl = panelLabels(23, 8);
			xl.customValues = lonTicks;
			yl.customValues = latTicks;
			yAxes = yAxes.concat(axisPair('y', g, 22, 28, latTicks, yl));
			xAxes = xAxes.concat(axisPair('x', g, 33, 39, lonTicks, xl));
			return { x: xAxes.length - 2, y: yAxes.length - 2 };
		}

		function regionSeries(ax, regions) {
			series.push({
				type: 'custom', xAxisIndex: ax.x, yAxisIndex: ax.y, silent: true, clip: true, z: 2,
				data: regions.map(function(r, i) { return [i]; }),
				encode: { x: [], y: [] },
				renderItem: function(params, api) {
					var r = regions[params.dataIndex];
					return {
						type: 'polygon',
						shape: { points: r.points.map(api.coord) },
						style: { fill: r.color, stroke: '#222', lineWidth: 0.9 },
						clipPath: { type: 'polygon', shape: { points: basin.map(api.coord) } }
					};
				}
			});
		}

		function outlineSeries(ax) {
			series.push({
				type: 'custom', xAxisIndex: ax.x, yAxisIndex: ax.y, silent: true, clip: true, z: 4,
				data: [[0]],
				encode: { x: [], y: [] },
				renderItem: function(params, api) {
					return {
						type: 'polygon',
						shape: { points: basin.map(api.coord) },
						style: { fill: 'none', stroke: '#1c1c1c', lineWidth: 1.5 }
					};
				}
			});
		}

		function contourSeries(ax, lines) {
			lines.forEach(function(pts) {
				series.push({
					type: 'line', xAxisIndex: ax.x, yAxisIndex: ax.y, data: pts, showSymbol: false, silent: true, z: 3,
					smooth: false, lineStyle: { color: '#222', width: 0.9 }
				});
			});
		}

		function dotSeries(ax, lons, lats) {
			series.push({
				type: 'scatter', xAxisIndex: ax.x, yAxisIndex: ax.y, silent: true, z: 1,
				data: landDots(lons, lats), symbolSize: 1.4, itemStyle: { color: '#666' }
			});
		}

		function arrowSeries(ax, rows) {
			series.push({
				type: 'custom', xAxisIndex: ax.x, yAxisIndex: ax.y, silent: true, clip: true, z: 5,
				data: flatRows(rows),
				encode: { x: 0, y: 1 },
				renderItem: function(params, api) {
					var lon = api.value(0), lat = api.value(1);
					var tail = api.coord([lon, lat]);
					var head = api.coord([lon + api.value(2), lat + api.value(3)]);
					var dx = head[0] - tail[0], dy = head[1] - tail[1];
					var len = Math.sqrt(dx * dx + dy * dy);
					var hl = Math.max(2.5, len * 0.32);
					var ang = Math.atan2(dy, dx), spread = 0.36;
					var style = { fill: 'none', stroke: '#1e1e1e', lineWidth: 1.1 };
					return {
						type: 'group',
						children: [{
							type: 'line',
							shape: { x1: tail[0], y1: tail[1], x2: head[0], y2: head[1] },
							style: style
						}, {
							type: 'polyline',
							shape: {
								points: [
									[head[0] - hl * Math.cos(ang - spread), head[1] - hl * Math.sin(ang - spread)],
									head,
									[head[0] - hl * Math.cos(ang + spread), head[1] - hl * Math.sin(ang + spread)]
								]
							},
							style: style
						}]
					};
				}
			});
		}

		// panel a
		var axA = addPanel(18);
		dotSeries(axA, dotLonsA, dotLatsA);
		regionSeries(axA, regionsA);
		contourSeries(axA, contoursA);
		outlineSeries(axA);
		arrowSeries(axA, rowsA);

		// panel b
		var axB = addPanel(567);
		dotSeries(axB, dotLonsB, dotLatsB);
		regionSeries(axB, regionsB);
		outlineSeries(axB);
		arrowSeries(axB, rowsB);

		// panel c
		var axC = addPanel(1115);
		series.push({
			type: 'line', xAxisIndex: axC.x, yAxisIndex: axC.y, data: coastC, showSymbol: false, silent: true,
			lineStyle: { color: '#2a2a2a', width: 1.2 }
		});
		series.push({
			type: 'line', xAxisIndex: axC.x, yAxisIndex: axC.y, data: sectionC, showSymbol: false, silent: true,
			lineStyle: { color: '#ee3338', width: 1.2 }
		});

		// colour bar
		var gBar = grids.length;
		grids.push({ left: 43, top: 992, width: 565, height: 37 });
		var barLabel = {
			show: true, customValues: barTicks, fontFamily: '"Liberation Sans"', fontSize: 23.5, color: '#222', margin: 13,
			formatter: function(v) { return String(v); }
		};
		xAxes = xAxes.concat(axisPair('x', gBar, 1025.5, 1028.5, barTicks, barLabel));
		yAxes = yAxes.concat(axisPair('y', gBar, 0, 1, [], { show: false }));
		series.push({
			type: 'custom', xAxisIndex: xAxes.length - 2, yAxisIndex: yAxes.length - 2, silent: true, clip: true,
			data: barColors.map(function(c, i) { return [barEdges[i], barEdges[i + 1]]; }),
			encode: { x: [0, 1], y: [] },
			renderItem: function(params, api) {
				var p0 = api.coord([api.value(0), 1]);
				var p1 = api.coord([api.value(1), 0]);
				return {
					type: 'rect',
					shape: { x: p0[0], y: p0[1], width: p1[0] - p0[0], height: p1[1] - p0[1] },
					style: { fill: barColors[params.dataIndex] }
				};
			}
		});

		var myChart = echarts.init(document.getElementById('app'), null, { renderer: 'canvas' });

		var option = {
			animation: false,
			backgroundColor: '#fff',
			grid: grids,
			xAxis: xAxes,
			yAxis: yAxes,
			series: series,
			graphic: [
				{ type: 'text', x: 207, y: 311, z: 20, style: { text: 'a', font: 'bold 35px ' + serif, fill: '#222' } },
				{ type: 'text', x: 208, y: 859, z: 20, style: { text: 'b', font: 'bold 35px ' + serif, fill: '#222' } },
				{ type: 'text', x: 207, y: 1409, z: 20, style: { text: 'c', font: 'bold 35px ' + serif, fill: '#222' } }
			]
		};

		myChart.setOption(option);
	</script>
</body>

</html>
